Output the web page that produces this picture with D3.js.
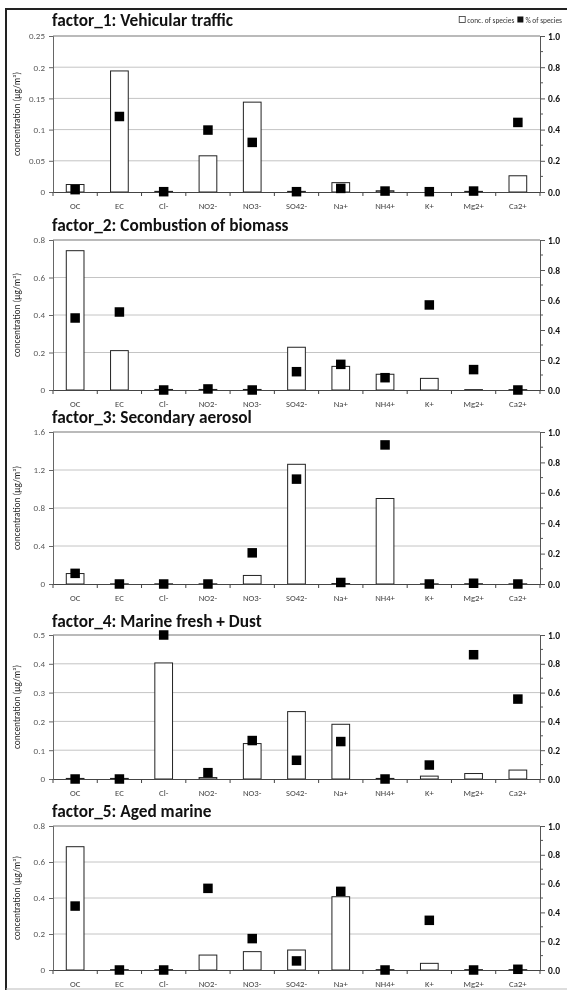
<!DOCTYPE html>
<html>
<head>
<meta charset="utf-8">
<script src="https://cdn.jsdelivr.net/npm/d3@7"></script>
<style>
  html, body { margin: 0; padding: 0; background: #fff; }
  svg { display: block; will-change: transform; }
  text { font-family: Carlito, Calibri, Lato, "Open Sans", sans-serif; }
</style>
</head>
<body>
<svg id="chart" width="567" height="990"></svg>
<script>
// ---------- DATA ----------
const categories = ["OC", "EC", "Cl-", "NO2-", "NO3-", "SO42-", "Na+", "NH4+", "K+", "Mg2+", "Ca2+"];

const titles = [
  "factor_1: Vehicular traffic",
  "factor_2: Combustion of biomass",
  "factor_3: Secondary aerosol",
  "factor_4: Marine fresh + Dust",
  "factor_5: Aged marine"
];

// concentration of species (µg/m³), left axis
const f1Conc = [0.012, 0.194, 0.001, 0.058, 0.144, 0.001, 0.015, 0.002, 0.000, 0.001, 0.026];
const f2Conc = [0.743, 0.210, 0.003, 0.003, 0.003, 0.228, 0.126, 0.084, 0.062, 0.002, 0.002];
const f3Conc = [0.110, 0.002, 0.002, 0.002, 0.090, 1.260, 0.005, 0.900, 0.002, 0.003, 0.002];
const f4Conc = [0.002, 0.002, 0.403, 0.005, 0.123, 0.234, 0.190, 0.002, 0.010, 0.019, 0.031];
const f5Conc = [0.685, 0.002, 0.002, 0.083, 0.102, 0.111, 0.407, 0.002, 0.037, 0.002, 0.002];

// % of species (fraction), right axis
const f1Pct = [0.015, 0.484, 0.002, 0.397, 0.318, 0.002, 0.023, 0.006, 0.002, 0.006, 0.446];
const f2Pct = [0.480, 0.520, 0.000, 0.007, 0.000, 0.122, 0.171, 0.082, 0.567, 0.136, 0.000];
const f3Pct = [0.070, 0.000, 0.000, 0.000, 0.205, 0.690, 0.010, 0.915, 0.000, 0.005, 0.000];
const f4Pct = [0.000, 0.000, 1.000, 0.044, 0.267, 0.130, 0.260, 0.000, 0.097, 0.863, 0.555];
const f5Pct = [0.444, 0.000, 0.000, 0.567, 0.218, 0.063, 0.546, 0.000, 0.345, 0.000, 0.005];

// left axis tick labels per panel
const leftTicks1 = ["0", "0.05", "0.1", "0.15", "0.2", "0.25"];
const leftTicks2 = ["0", "0.2", "0.4", "0.6", "0.8"];
const leftTicks3 = ["0", "0.4", "0.8", "1.2", "1.6"];
const leftTicks4 = ["0", "0.1", "0.2", "0.3", "0.4", "0.5"];
const leftTicks5 = ["0", "0.2", "0.4", "0.6", "0.8"];
// right axis tick labels
const rightTicks = ["0.0", "0.2", "0.4", "0.6", "0.8", "1.0"];
const rightMinor = [0.1, 0.3, 0.5, 0.7, 0.9];

const yAxisTitle = "concentration (µg/m³)";
const legendConc = "conc. of species";
const legendPct = "% of species";

// ---------- LAYOUT ----------
const concs = [f1Conc, f2Conc, f3Conc, f4Conc, f5Conc];
const pcts = [f1Pct, f2Pct, f3Pct, f4Pct, f5Pct];
const lticks = [leftTicks1, leftTicks2, leftTicks3, leftTicks4, leftTicks5];
const plotTops = [36, 240, 432, 635, 826];
const plotBottoms = [192, 390, 584, 779, 970];
const titleGap = [10, 9, 9, 8, 9];
const xLeft = 53, xRight = 540;
const FONT = "Carlito, Calibri, Lato, sans-serif";

const svg = d3.select("#chart");

// outer frame
svg.append("line").attr("x1", 6).attr("x2", 567).attr("y1", 9).attr("y2", 9)
  .attr("stroke", "#222").attr("stroke-width", 2);
svg.append("line").attr("x1", 6).attr("x2", 6).attr("y1", 8).attr("y2", 990)
  .attr("stroke", "#222").attr("stroke-width", 2);
svg.append("line").attr("x1", 6).attr("x2", 567).attr("y1", 989).attr("y2", 989)
  .attr("stroke", "#bbb").attr("stroke-width", 1);

const x = d3.scaleBand().domain(categories).range([xLeft, xRight]).padding(0);
const barW = x.bandwidth() * 0.4;
const sq = 9.5;

titles.forEach((title, i) => {
  const top = plotTops[i], bot = plotBottoms[i];
  const ticks = lticks[i];
  const maxV = +ticks[ticks.length - 1];
  const y = d3.scaleLinear().domain([0, maxV]).range([bot, top]);
  const y2 = d3.scaleLinear().domain([0, 1]).range([bot, top]);
  const g = svg.append("g");

  // gridlines
  g.selectAll(".grid").data(ticks.slice(1, -1)).join("line")
    .attr("x1", xLeft).attr("x2", xRight)
    .attr("y1", d => y(+d)).attr("y2", d => y(+d))
    .attr("stroke", "#c4c4c4").attr("stroke-width", 1);
  // top line
  g.append("line").attr("x1", xLeft).attr("x2", xRight).attr("y1", y(maxV)).attr("y2", y(maxV))
    .attr("stroke", "#777").attr("stroke-width", 1.2);

  // left axis
  const yAx = d3.axisLeft(y).tickValues(ticks.map(Number)).tickFormat((d, k) => ticks[k]).tickSize(4).tickPadding(4);
  const la = g.append("g").attr("transform", `translate(${xLeft},0)`).call(yAx);
  la.select(".domain").attr("stroke", "#666");
  la.selectAll(".tick line").attr("stroke", "#666");
  la.selectAll("text").attr("font-size", 9).attr("fill", "#595959").style("font-family", FONT);

  // right axis major
  const yAx2 = d3.axisRight(y2).tickValues(rightTicks.map(Number)).tickFormat((d, k) => rightTicks[k]).tickSize(5).tickPadding(3);
  const ra = g.append("g").attr("transform", `translate(${xRight},0)`).call(yAx2);
  ra.select(".domain").attr("stroke", "#555");
  ra.selectAll(".tick line").attr("stroke", "#555");
  ra.selectAll("text").attr("font-size", 9.5).attr("font-weight", "bold").attr("fill", "#111").style("font-family", FONT);
  // right minor ticks
  g.selectAll(".minor").data(rightMinor).join("line")
    .attr("x1", xRight).attr("x2", xRight + 3)
    .attr("y1", d => y2(d)).attr("y2", d => y2(d))
    .attr("stroke", "#555");

  // bars
  g.selectAll(".bar").data(categories).join("rect")
    .attr("x", d => x(d) + (x.bandwidth() - barW) / 2)
    .attr("width", barW)
    .attr("y", (d, k) => y(concs[i][k]))
    .attr("height", (d, k) => Math.max(0, bot - y(concs[i][k])))
    .attr("fill", "#fff").attr("stroke", "#222").attr("stroke-width", 1);

  // bottom axis
  const xAx = d3.axisBottom(x).tickSize(0).tickPadding(10.5);
  const ba = g.append("g").attr("transform", `translate(0,${bot})`).call(xAx);
  ba.select(".domain").attr("stroke", "#444").attr("stroke-width", 1.2);
  ba.selectAll("text").attr("font-size", 8.7).attr("fill", "#444").style("font-family", FONT);
  // boundary ticks
  const bounds = categories.map(c => x(c)).concat([xRight]);
  g.selectAll(".btick").data(bounds).join("line")
    .attr("x1", d => d).attr("x2", d => d)
    .attr("y1", bot).attr("y2", bot + 4)
    .attr("stroke", "#444");

  // squares (% of species)
  g.selectAll(".sq").data(categories).join("rect")
    .attr("x", d => x(d) + x.bandwidth() / 2 - sq / 2)
    .attr("y", (d, k) => y2(pcts[i][k]) - sq / 2)
    .attr("width", sq).attr("height", sq)
    .attr("fill", "#000");

  // y axis title
  g.append("text")
    .attr("transform", `translate(20,${(top + bot) / 2}) rotate(-90)`)
    .attr("text-anchor", "middle")
    .attr("font-size", 9.3).attr("fill", "#222")
    .text(yAxisTitle);

  // panel title
  g.append("text")
    .attr("x", xLeft - 1).attr("y", top - titleGap[i])
    .attr("font-size", 17.3).attr("font-weight", "bold").attr("fill", "#111")
    .text(title);
});

// legend (top right)
const lg = svg.append("g");
const lgText2 = lg.append("text").attr("x", 562).attr("y", 23).attr("text-anchor", "end")
  .attr("font-size", 7.4).attr("fill", "#333").text(legendPct);
const w2 = lgText2.node().getComputedTextLength();
lg.append("rect").attr("x", 562 - w2 - 8).attr("y", 16.5).attr("width", 6).attr("height", 6).attr("fill", "#111");
const lgText1 = lg.append("text").attr("x", 562 - w2 - 11).attr("y", 23).attr("text-anchor", "end")
  .attr("font-size", 7.4).attr("fill", "#333").text(legendConc);
const w1 = lgText1.node().getComputedTextLength();
lg.append("rect").attr("x", 562 - w2 - 11 - w1 - 8).attr("y", 16.5).attr("width", 6).attr("height", 6)
  .attr("fill", "#fff").attr("stroke", "#333").attr("stroke-width", 0.8);
</script>
</body>
</html>
